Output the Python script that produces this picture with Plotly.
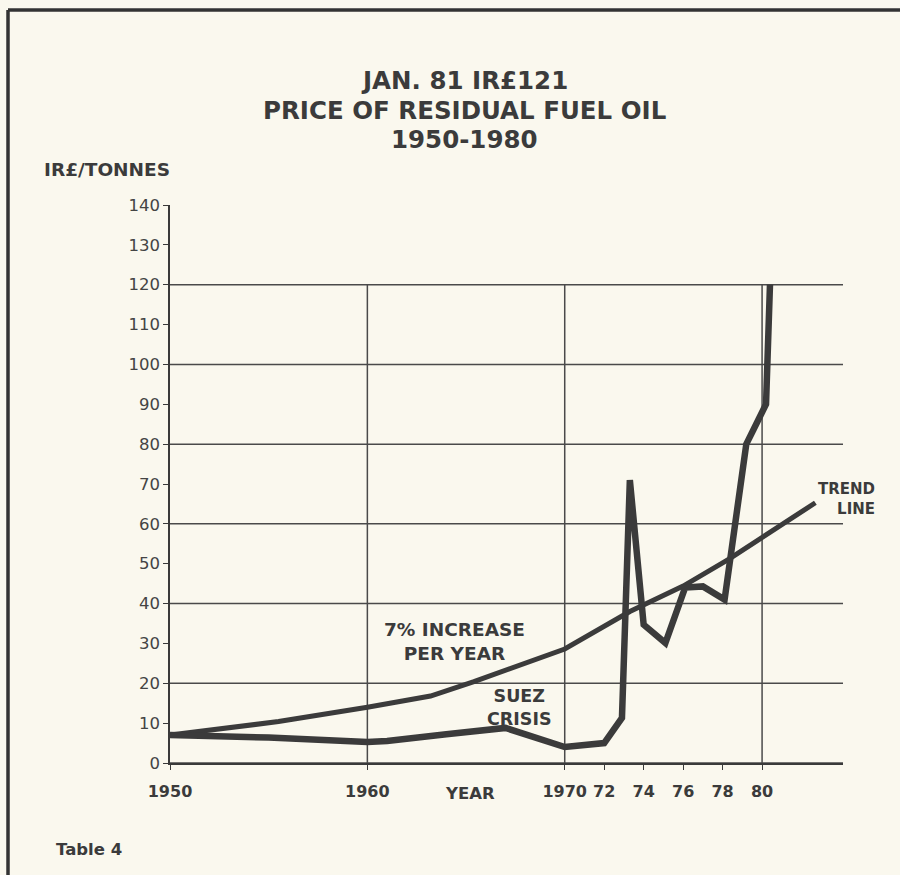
import plotly.graph_objects as go

# Residual fuel oil price, IR£ per tonne
price_years = [1950, 1955, 1960, 1961, 1964, 1967, 1970, 1972, 1972.9, 1973.3,
               1974, 1975.1, 1976.1, 1977, 1978.1, 1979.2, 1980.2, 1980.4]
price_values = [7.0, 6.4, 5.3, 5.5, 7.2, 8.8, 4.0, 5.0, 11.3, 71.0,
                34.7, 30.1, 44.0, 44.3, 41.0, 80.0, 90.0, 120.0]

# 7% per year trend line
trend_years = [1950, 1955.5, 1960, 1963.2, 1965.4, 1970, 1973.3, 1976, 1978.3, 1980, 1982.7]
trend_values = [7.0, 10.4, 14.0, 16.8, 20.4, 28.6, 38.0, 44.4, 51.1, 56.5, 65.3]

# Axis labelling
x_tick_vals = [1950, 1960, 1970, 1972, 1974, 1976, 1978, 1980]
x_tick_text = ["1950", "1960", "1970", "72", "74", "76", "78", "80"]
y_tick_vals = list(range(0, 141, 10))
grid_levels = [0, 20, 40, 60, 80, 100, 120]
grid_years = [1960, 1970, 1980]
title_lines = ["JAN. 81 IR£121", "PRICE OF RESIDUAL FUEL OIL", "1950-1980"]

INK = "#3b3b3b"
PAPER = "#faf8ee"
BOLD = "DejaVu Sans"

W, H = 900, 875
L, R, T, B = 170, 57, 205, 112
X_MIN, X_MAX = 1950, 1984.1
Y_MIN, Y_MAX = 0, 140


def px_x(px):
    return (px - L) / (W - L - R)


def px_y(py):
    return (H - B - py) / (H - T - B)


fig = go.Figure()

fig.add_trace(go.Scatter(
    x=trend_years, y=trend_values, mode="lines",
    line=dict(color=INK, width=5), hoverinfo="skip", showlegend=False,
))
fig.add_trace(go.Scatter(
    x=price_years, y=price_values, mode="lines",
    line=dict(color=INK, width=6.5), hoverinfo="skip", showlegend=False,
))

shapes = []
# horizontal rules every 20 units
for lv in grid_levels:
    shapes.append(dict(type="line", xref="x", yref="y", x0=X_MIN, x1=X_MAX,
                       y0=lv, y1=lv, layer="below",
                       line=dict(color="#4a4a4a", width=1.5)))
# vertical rules at decade marks, up to the 120 line
for yr in grid_years:
    shapes.append(dict(type="line", xref="x", yref="y", x0=yr, x1=yr,
                       y0=0, y1=120, layer="below",
                       line=dict(color="#4a4a4a", width=1.5)))
# page frame (top and left edges)
shapes.append(dict(type="line", xref="paper", yref="paper",
                   x0=px_x(8), x1=px_x(W + 5), y0=px_y(10), y1=px_y(10),
                   line=dict(color="#333333", width=3.5)))
shapes.append(dict(type="line", xref="paper", yref="paper",
                   x0=px_x(8), x1=px_x(8), y0=px_y(10), y1=px_y(H + 5),
                   line=dict(color="#333333", width=3.5)))

annotations = []
for text, py in zip(title_lines, [80, 110, 140]):
    annotations.append(dict(text=f"<b>{text}</b>", xref="paper", yref="paper",
                            x=px_x(464), y=px_y(py), showarrow=False,
                            xanchor="center", yanchor="middle",
                            font=dict(family=BOLD, size=24.5, color=INK)))

annotations += [
    dict(text="<b>IR£/TONNES</b>", xref="paper", yref="paper",
         x=px_x(42), y=px_y(169), xanchor="left", yanchor="middle",
         showarrow=False, font=dict(family=BOLD, size=18.5, color=INK)),
    dict(text="<b>YEAR</b>", xref="x", yref="paper",
         x=1965.2, y=px_y(793), xanchor="center", yanchor="middle",
         showarrow=False, font=dict(family=BOLD, size=16.5, color=INK)),
    dict(text="<b>7% INCREASE<br>PER YEAR</b>", xref="x", yref="y",
         x=1964.4, y=30.6, xanchor="center", yanchor="middle", align="center",
         showarrow=False, font=dict(family=BOLD, size=18.5, color=INK)),
    dict(text="<b>SUEZ<br>CRISIS</b>", xref="x", yref="y",
         x=1967.7, y=14.0, xanchor="center", yanchor="middle", align="center",
         showarrow=False, font=dict(family=BOLD, size=17.5, color=INK)),
    dict(text="<b>TREND<br>LINE</b>", xref="paper", yref="paper",
         x=px_x(877), y=px_y(499), xanchor="right", yanchor="middle", align="right",
         showarrow=False, font=dict(family=BOLD, size=15, color=INK)),
    dict(text="<b>Table 4</b>", xref="paper", yref="paper",
         x=px_x(54), y=px_y(849), xanchor="left", yanchor="middle",
         showarrow=False, font=dict(family=BOLD, size=16.5, color=INK)),
]

fig.update_layout(
    width=W, height=H,
    margin=dict(l=L, r=R, t=T, b=B),
    paper_bgcolor=PAPER, plot_bgcolor=PAPER,
    shapes=shapes, annotations=annotations,
    showlegend=False,
)
fig.update_xaxes(
    range=[X_MIN, X_MAX], tickmode="array", tickvals=x_tick_vals, ticktext=x_tick_text,
    showgrid=False, zeroline=False, showline=True, linecolor="#3a3a3a", linewidth=1.6,
    ticks="outside", ticklen=5, tickcolor="#3a3a3a", ticklabelstandoff=8,
    tickfont=dict(family=BOLD, size=16, color=INK, weight="bold"),
)
fig.update_yaxes(
    range=[Y_MIN, Y_MAX], tickmode="array", tickvals=y_tick_vals,
    showgrid=False, zeroline=False, showline=True, linecolor="#3a3a3a", linewidth=1.6,
    ticks="outside", ticklen=5, tickcolor="#3a3a3a",
    tickfont=dict(family="DejaVu Sans", size=16.5, color="#444444"),
)

fig.write_html("out.html")
